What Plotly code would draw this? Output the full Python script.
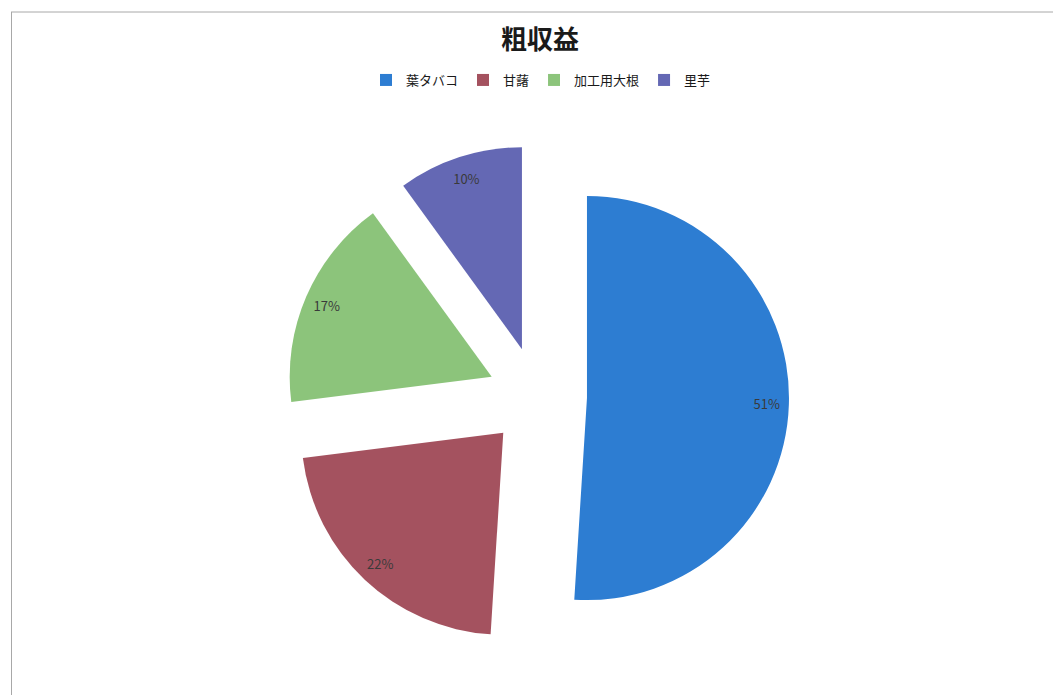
import plotly.graph_objects as go

# 粗収益の内訳
labels = ["葉タバコ", "甘藷", "加工用大根", "里芋"]
values = [51, 22, 17, 10]
colors = ["#2D7DD2", "#A4525F", "#8CC47B", "#6468B4"]

W, H = 1053, 695
PULL = 0.246
CX, CY = 537.3, 396.5          # pie centre in pixels
HALF_BOX = 251.7                # r * (1 + pull)

dom_x = [(CX - 262) / W, (CX + 262) / W]
dom_y = [1 - (CY + HALF_BOX) / H, 1 - (CY - HALF_BOX) / H]

FONT = "Noto Sans CJK JP"

fig = go.Figure()

# filled, exploded slices
fig.add_trace(go.Pie(
    labels=labels, values=values, sort=False, direction="clockwise", rotation=0,
    pull=PULL, domain=dict(x=dom_x, y=dom_y),
    marker=dict(colors=colors, line=dict(width=0)),
    textinfo="none", hoverinfo="label+percent",
))

# transparent ring on top that carries the percentage labels near the outer edge
fig.add_trace(go.Pie(
    labels=labels, values=values, sort=False, direction="clockwise", rotation=0,
    pull=PULL, hole=0.78, domain=dict(x=dom_x, y=dom_y),
    marker=dict(colors=["rgba(0,0,0,0)"] * len(labels), line=dict(width=0)),
    textinfo="percent", textposition="inside", insidetextorientation="horizontal",
    insidetextfont=dict(family=FONT, size=13, color="#3a3a3a"),
    showlegend=False, hoverinfo="skip",
))

# chart frame
frame = dict(color="#A8A8A8", width=1)
fig.add_shape(type="line", xref="paper", yref="paper",
              x0=11 / W, x1=1, y0=1 - 12 / H, y1=1 - 12 / H, line=frame)
fig.add_shape(type="line", xref="paper", yref="paper",
              x0=11.5 / W, x1=11.5 / W, y0=0, y1=1 - 12 / H, line=frame)

fig.update_layout(
    width=W, height=H,
    margin=dict(l=0, r=0, t=0, b=0),
    paper_bgcolor="white", plot_bgcolor="white",
    font=dict(family=FONT, color="#222222"),
    title=dict(text="<b>粗収益</b>", x=540 / W, xanchor="center",
               y=1 - 40 / H, yanchor="middle",
               font=dict(family=FONT, size=26, color="#1a1a1a")),
    legend=dict(orientation="h", x=541 / W, xanchor="center",
                y=1 - 80 / H, yanchor="middle",
                font=dict(family=FONT, size=13, color="#1a1a1a"),
                itemwidth=30, traceorder="normal"),
)

fig.write_html("out.html")
